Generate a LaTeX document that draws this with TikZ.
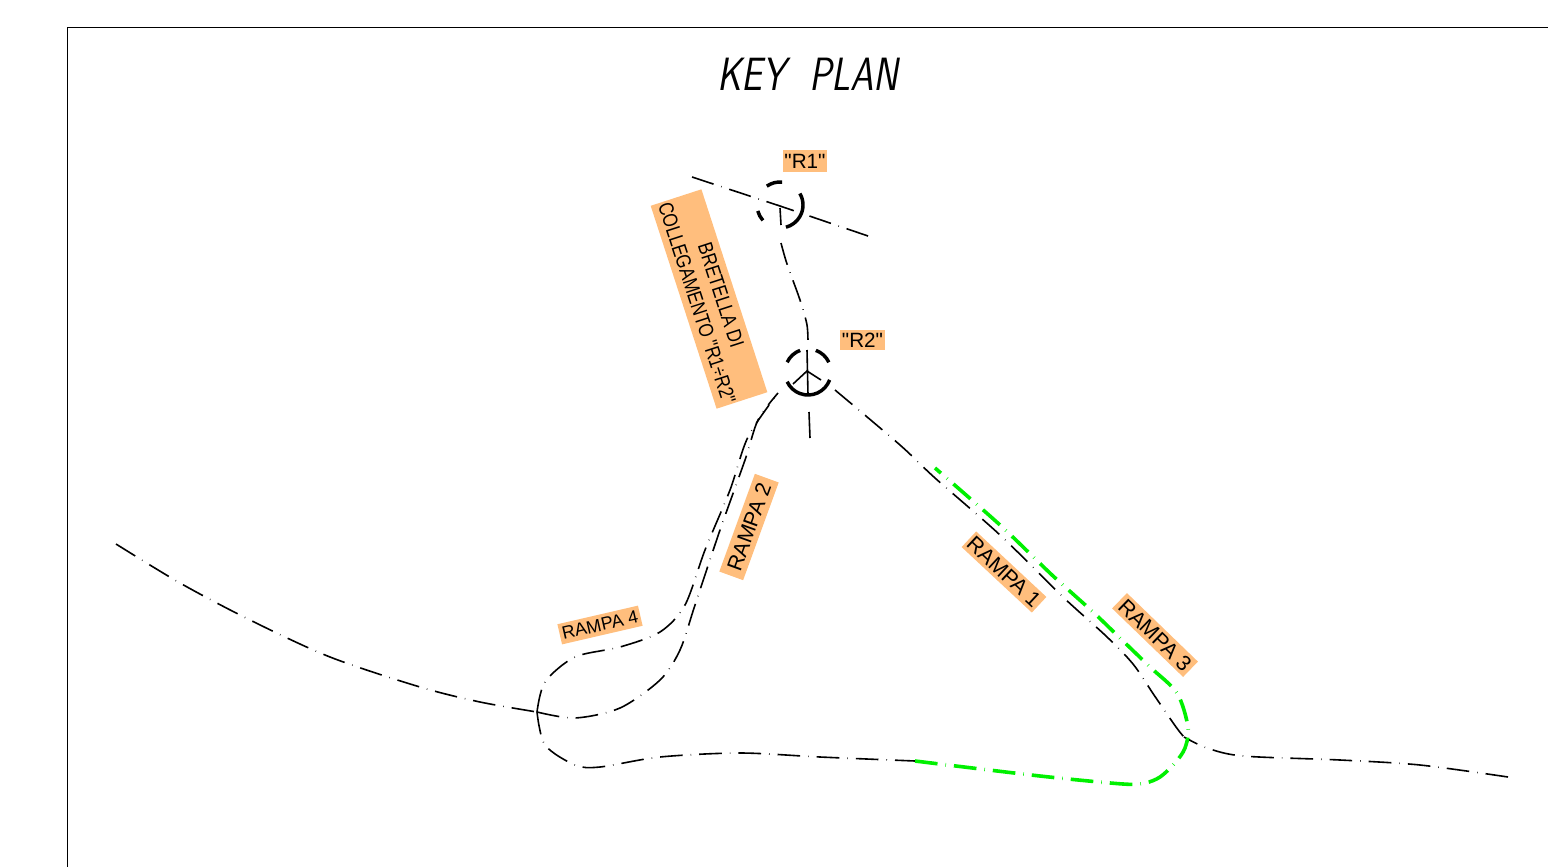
\documentclass[tikz,border=0pt]{standalone}
\usepackage{fontspec}
\newfontfamily\tagfont{Liberation Sans}
\newfontfamily\narrowfont[FakeStretch=0.82]{Liberation Sans}
\usetikzlibrary{arrows.meta, calc}
\definecolor{tagfill}{RGB}{255,190,125}
\definecolor{rampgreen}{RGB}{0,240,0}
\tikzset{
  axisline/.style={line width=1.2pt,dash pattern=on 17pt off 6pt on 0.4pt off 6pt},
  greenline/.style={draw=rampgreen,line width=2.7pt,dash pattern=on 17pt off 6pt on 0.4pt off 6pt},
  ringarc/.style={line width=2.6pt},
  tag/.style={fill=tagfill,inner sep=0pt,align=center,text=black,font=\tagfont}
}
\begin{document}
\begin{tikzpicture}[x=0.75pt,y=-0.75pt]
\useasboundingbox (0,0) rectangle (1548,867);

\draw[line width=0.6pt] (1548,27) -- (67,27) -- (67,867);
\node[xscale=0.8,font=\sffamily\itshape\fontsize{35}{35}\selectfont] (title) at (808,74) {KEY\ \ PLAN};

% tags
\node[tag,minimum width=33pt,minimum height=16.5pt,font=\tagfont\fontsize{15.5}{16}\selectfont] (tagR1) at (805,161) {"R1"};
\node[tag,minimum width=33.5pt,minimum height=15pt,font=\tagfont\fontsize{15.5}{16}\selectfont] (tagR2) at (862.5,340) {"R2"};
\node[tag,rotate=-72,minimum width=160pt,minimum height=40pt,font=\narrowfont\fontsize{15.5}{19}\selectfont] (tagB) at (709,299) {BRETELLA DI\\COLLEGAMENTO "R1÷R2"};
\node[tag,rotate=70,minimum width=78pt,minimum height=19pt,font=\tagfont\fontsize{16}{16}\selectfont] (tagA2) at (749,527) {RAMPA 2};
\node[tag,rotate=13,minimum width=62pt,minimum height=15.5pt,font=\tagfont\fontsize{13.5}{14}\selectfont] (tagA4) at (600,625) {RAMPA 4};
\node[tag,rotate=-43,minimum width=72pt,minimum height=16pt,font=\tagfont\fontsize{16}{16}\selectfont] (tagA1) at (1004,572) {RAMPA 1};
\node[tag,rotate=-44,minimum width=74pt,minimum height=16pt,font=\tagfont\fontsize{16}{16}\selectfont] (tagA3) at (1155,635) {RAMPA 3};

% junctions
\coordinate (W) at (537,712);
\coordinate (E) at (1184,737);
\coordinate (S1) at (778,393);
\coordinate (S2) at (835,390);
\coordinate (C1) at (780,206);

% axes
\draw[axisline] (868,236) -- (C1);
\draw[axisline] (692,177) -- (C1);
\draw[axisline] plot[smooth] coordinates {(781,243) (787,264) (800,300) (807,325) (808,345)};
\draw[line width=1.2pt] (809,412) -- (810,438);
\draw[axisline] plot[smooth] coordinates {(116,544) (180,583) (250,620) (330,657) (420,687) (480,702) (W)};
\draw[axisline] plot[smooth] coordinates {(W) (575,718) (620,708) (660,680) (680,650) (695,605) (720,530) (745,460) (758,420) (S1)};
\draw[axisline] plot[smooth] coordinates {(W) (545,682) (575,657) (620,647) (660,632) (685,605) (705,550) (730,490) (748,437) (S1)};
\draw[axisline] plot[smooth] coordinates {(W) (545,745) (575,765) (600,767) (660,757) (740,753) (820,757) (915,761)};
\draw[axisline] plot[smooth] coordinates {(S2) (900,445) (935,478) (1000,535) (1063,597) (1106,636) (1133,664) (1154,695) (1176,727) (E)};
\draw[axisline] plot[smooth] coordinates {(1508,777) (1420,765) (1340,760) (1243,756) (1207,748) (E)};
\draw[greenline] plot[smooth] coordinates {(915,761) (1040,776) (1123,784) (1145,783) (1160,777) (1175,763) (1185,748) (1188,727) (1177,693) (1150,667) (1122,640) (1093,612) (1052,575) (1000,525) (935,468)};

% rings
\draw[ringarc] (780,205) ++(-125:23) arc (-125:-85:23);
\draw[ringarc] (780,205) ++(-30:23) arc (-30:75:23);
\draw[ringarc] (780,205) ++(-195:23) arc (-195:-222:23);
\draw[line width=1.2pt] (780,208) -- (781,225);
\draw[ringarc] (808,372) ++(-155:23) arc (-155:-110:23);
\draw[ringarc] (808,372) ++(-70:23) arc (-70:-25:23);
\draw[ringarc] (808,372) ++(20:23) arc (20:155:23);
\draw[line width=1.2pt] (807,350) -- (808,395);
\draw[line width=1.2pt] (793,384) -- (807,371) -- (821,380);
\end{tikzpicture}
\end{document}
